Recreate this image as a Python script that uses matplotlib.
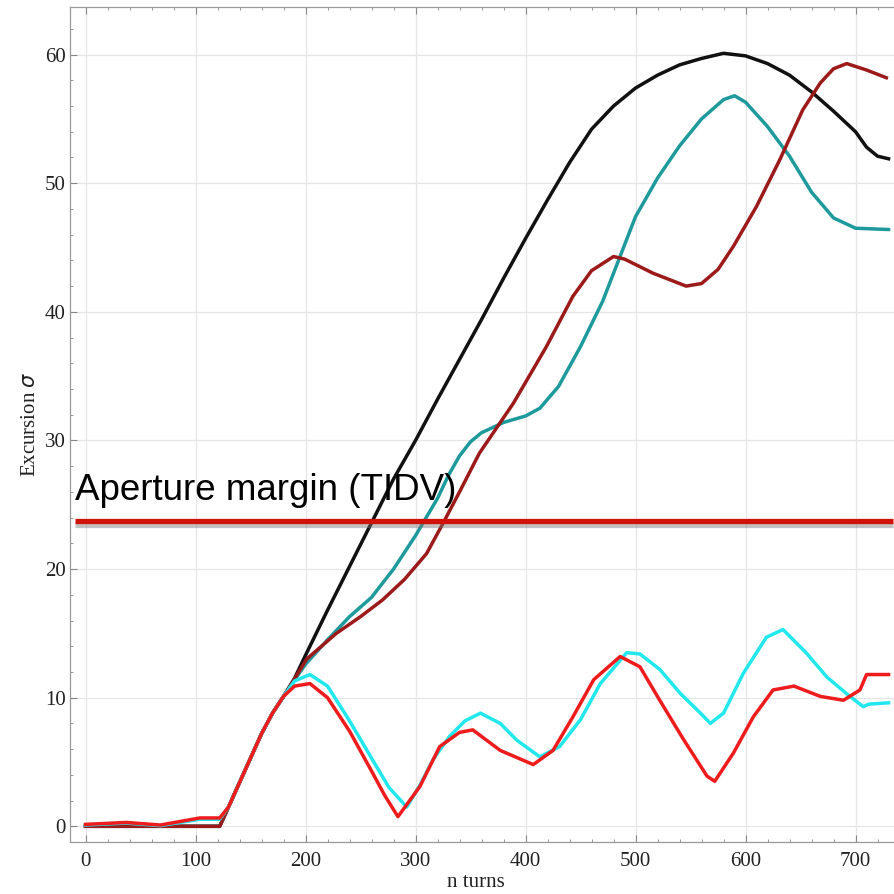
import numpy as np
import matplotlib
matplotlib.use("Agg")
import matplotlib.pyplot as plt
import matplotlib.patheffects as pe
from matplotlib.ticker import MultipleLocator

# ---- data ----
black_x = [0, 122, 130, 140, 150, 160, 170, 180, 190, 200, 220, 240, 260, 280, 300, 320, 340, 360,
           380, 400, 420, 440, 460, 480, 500, 520, 540, 560, 580, 600, 620, 640, 660, 680, 700, 710, 720, 730]
black_y = [0, 0, 1.5, 3.4, 5.3, 7.2, 8.8, 10.1, 11.5, 13.3, 16.8, 20.2, 23.6, 27.0, 30.0, 33.2, 36.3, 39.4,
           42.6, 45.7, 48.7, 51.6, 54.2, 56.0, 57.4, 58.4, 59.2, 59.7, 60.1, 59.9, 59.3, 58.4, 57.1, 55.6, 54.0, 52.8, 52.1, 51.9]

teal_x = [0, 122, 130, 140, 150, 160, 170, 180, 186, 200, 220, 240, 260, 280, 300, 320, 330, 340, 350, 360, 380,
          400, 413, 430, 450, 470, 480, 500, 520, 540, 560, 580, 590, 600, 620, 640, 660, 680, 700, 730]
teal_y = [0, 0, 1.5, 3.4, 5.3, 7.2, 8.8, 10.1, 10.9, 12.6, 14.5, 16.3, 17.8, 20.0, 22.6, 25.5, 27.3, 28.8, 29.9, 30.6, 31.4,
          31.9, 32.5, 34.2, 37.3, 40.8, 43.0, 47.4, 50.4, 52.9, 55.0, 56.5, 56.8, 56.3, 54.4, 52.1, 49.3, 47.3, 46.5, 46.4]

darkred_x = [0, 122, 130, 140, 150, 160, 170, 180, 186, 201, 228, 250, 270, 290, 310, 324, 340, 358, 389, 419,
             443, 460, 480, 490, 516, 546, 560, 575, 589, 610, 631, 652, 668, 680, 692, 710, 728]
darkred_y = [0, 0, 1.5, 3.4, 5.3, 7.2, 8.8, 10.1, 10.9, 13.0, 15.0, 16.3, 17.6, 19.2, 21.2, 23.4, 26.0, 29.0, 32.9, 37.3,
             41.2, 43.2, 44.3, 44.1, 43.0, 42.0, 42.2, 43.3, 45.1, 48.2, 51.8, 55.7, 57.8, 58.9, 59.3, 58.8, 58.2]

cyan_x = [0, 37, 68, 104, 122, 130, 140, 150, 160, 170, 180, 190, 204, 220, 240, 260, 276, 292, 304, 316, 331, 345, 359,
          377, 392, 413, 431, 450, 468, 492, 504, 522, 541, 559, 568, 580, 598, 619, 634, 655, 674, 692, 707, 712, 730]
cyan_y = [0.1, 0.25, 0.05, 0.55, 0.55, 1.5, 3.4, 5.3, 7.2, 8.8, 10.1, 11.3, 11.8, 10.9, 8.2, 5.3, 3.0, 1.5, 3.2, 5.2, 7.0, 8.2, 8.8,
          8.0, 6.7, 5.4, 6.2, 8.3, 11.1, 13.5, 13.4, 12.2, 10.3, 8.8, 8.0, 8.8, 11.9, 14.7, 15.3, 13.5, 11.6, 10.3, 9.3, 9.5, 9.6]

red_x = [0, 37, 68, 104, 122, 130, 140, 150, 160, 170, 180, 190, 204, 220, 240, 260, 272, 284, 304, 322, 340, 352, 377,
         407, 425, 443, 462, 486, 504, 522, 544, 565, 572, 589, 607, 625, 644, 668, 689, 704, 710, 730]
red_y = [0.15, 0.3, 0.1, 0.65, 0.65, 1.5, 3.4, 5.3, 7.2, 8.8, 10.1, 10.9, 11.1, 10.0, 7.4, 4.3, 2.4, 0.75, 3.1, 6.2, 7.3, 7.5, 5.9,
         4.8, 5.9, 8.5, 11.4, 13.2, 12.4, 9.8, 6.7, 3.9, 3.5, 5.7, 8.5, 10.6, 10.9, 10.1, 9.8, 10.6, 11.8, 11.8]

margin_level = 23.7
margin_x = [-9.5, 734]
margin_label = "Aperture margin (TIDV)"

x_ticks = [0, 100, 200, 300, 400, 500, 600, 700]
y_ticks = [0, 10, 20, 30, 40, 50, 60]

# ---- figure ----
fig = plt.figure(figsize=(8.95, 8.94), dpi=100)
ax = fig.add_axes([70 / 895, 52 / 894, 1 - 70 / 895 + 0.01, (842 - 7) / 894])

ax.set_xlim(-14.1, 744)
ax.set_ylim(-1.22, 63.7)

ax.grid(True, color="#e6e6e6", linewidth=0.9)
ax.set_axisbelow(True)

lw = 2.5
ax.plot(black_x, black_y, color="#111111", lw=lw, zorder=3)
ax.plot(teal_x, teal_y, color="#1f9a9c", lw=lw, zorder=3)
ax.plot(darkred_x, darkred_y, color="#9c1a1a", lw=lw, zorder=3)
ax.plot(cyan_x, cyan_y, color="#22e8ee", lw=lw, zorder=3)
ax.plot(red_x, red_y, color="#ee1c1c", lw=lw, zorder=4)

ax.plot(margin_x, [margin_level, margin_level], color="#d01208", lw=3.8, solid_capstyle="butt", zorder=5,
        path_effects=[pe.SimpleLineShadow(offset=(0, -2.2), shadow_color="#777777", alpha=0.45),
                      pe.Normal()])
ax.text(-9.5, margin_level + 1.7, margin_label, fontsize=26.5, family="Liberation Sans",
        color="black", ha="left", va="baseline", zorder=6)

ax.set_xticks(x_ticks)
ax.set_yticks(y_ticks)
ax.xaxis.set_minor_locator(MultipleLocator(20))
ax.yaxis.set_minor_locator(MultipleLocator(2))

ax.tick_params(axis="both", which="major", direction="in", length=5, width=0.8, color="#888888",
               labelsize=15, top=True, right=False)
ax.tick_params(axis="both", which="minor", direction="in", length=2.5, width=0.6, color="#888888",
               top=True, right=False)
ax.tick_params(axis="x", which="major", pad=7)
ax.tick_params(axis="y", which="major", pad=3)
for lab in ax.get_xticklabels() + ax.get_yticklabels():
    lab.set_family("Liberation Serif")
    lab.set_color("#222222")

for s in ["left", "bottom", "top"]:
    ax.spines[s].set_color("#999999")
    ax.spines[s].set_linewidth(0.9)
ax.spines["right"].set_visible(False)

ax.set_xlabel("n turns", family="Liberation Serif", fontsize=15, color="#222222")
ax.set_ylabel(r"Excursion $\sigma$", family="Liberation Serif", fontsize=15, color="#222222")
ax.xaxis.set_label_coords((472 - 70) / 825, -(873 - 842) / 835)
ax.yaxis.set_label_coords(-(70 - 40) / 825, 0.5)

fig.savefig("out.png", dpi=100)
